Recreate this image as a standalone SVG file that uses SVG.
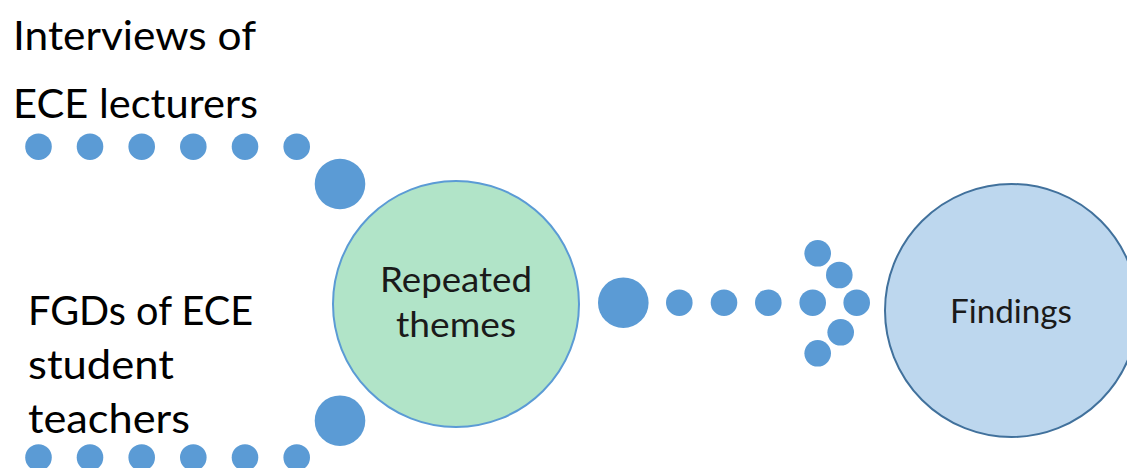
<svg xmlns="http://www.w3.org/2000/svg" width="1127" height="468" viewBox="0 0 1127 468">
  <style>
    .dot { fill: #5b9bd5; }
    .lbl { font-family: Lato, "Liberation Sans", sans-serif; fill: #000; }
    .ctr { font-family: Lato, "Liberation Sans", sans-serif; fill: #1a1a1a; text-anchor: middle; }
  </style>
  <rect width="1127" height="468" fill="#ffffff"/>

  <g id="label-interviews">
    <text class="lbl" x="13" y="50" font-size="41" textLength="243" lengthAdjust="spacingAndGlyphs">Interviews of</text>
    <text class="lbl" x="13" y="118" font-size="41" textLength="245" lengthAdjust="spacingAndGlyphs">ECE lecturers</text>
  </g>

  <g id="label-fgds">
    <text class="lbl" x="28" y="325" font-size="41" textLength="225" lengthAdjust="spacingAndGlyphs">FGDs of ECE</text>
    <text class="lbl" x="28" y="379" font-size="41" textLength="146" lengthAdjust="spacingAndGlyphs">student</text>
    <text class="lbl" x="28" y="433" font-size="41" textLength="162" lengthAdjust="spacingAndGlyphs">teachers</text>
  </g>

  <g id="connectors">
    <g id="top-dots">
      <circle class="dot" cx="38.5" cy="146.7" r="13.3"/>
      <circle class="dot" cx="90" cy="146.7" r="13.3"/>
      <circle class="dot" cx="141.7" cy="146.7" r="13.3"/>
      <circle class="dot" cx="193.3" cy="146.7" r="13.3"/>
      <circle class="dot" cx="245" cy="146.7" r="13.3"/>
      <circle class="dot" cx="296.7" cy="146.7" r="13.3"/>
      <circle class="dot" cx="340" cy="184" r="25.3"/>
    </g>
    <g id="bottom-dots">
      <circle class="dot" cx="38.5" cy="457.5" r="13.3"/>
      <circle class="dot" cx="90" cy="457.5" r="13.3"/>
      <circle class="dot" cx="141.7" cy="457.5" r="13.3"/>
      <circle class="dot" cx="193.3" cy="457.5" r="13.3"/>
      <circle class="dot" cx="245" cy="457.5" r="13.3"/>
      <circle class="dot" cx="296.7" cy="457.5" r="13.3"/>
      <circle class="dot" cx="340" cy="420.7" r="25.3"/>
    </g>
    <g id="arrow-dots">
      <circle class="dot" cx="623.3" cy="302.7" r="25.3"/>
      <circle class="dot" cx="679.3" cy="302.7" r="13.3"/>
      <circle class="dot" cx="724" cy="302.7" r="13.3"/>
      <circle class="dot" cx="768.3" cy="302.7" r="13.3"/>
      <circle class="dot" cx="812.7" cy="302.7" r="13.3"/>
      <circle class="dot" cx="856.7" cy="302.7" r="13.3"/>
      <circle class="dot" cx="817.7" cy="253.3" r="13.3"/>
      <circle class="dot" cx="839.3" cy="275" r="13.3"/>
      <circle class="dot" cx="840.7" cy="332.3" r="13.3"/>
      <circle class="dot" cx="817.7" cy="353.3" r="13.3"/>
    </g>
  </g>

  <g id="node-repeated-themes">
    <circle cx="456" cy="304" r="123" fill="#b1e4c8" stroke="#5b9bd5" stroke-width="2"/>
    <text class="ctr" x="456" y="292" font-size="35" textLength="152" lengthAdjust="spacingAndGlyphs">Repeated</text>
    <text class="ctr" x="456" y="337" font-size="35" textLength="120" lengthAdjust="spacingAndGlyphs">themes</text>
  </g>

  <g id="node-findings">
    <circle cx="1011.5" cy="310.5" r="126.5" fill="#bdd7ee" stroke="#41719c" stroke-width="2"/>
    <text class="ctr" x="1011" y="323" font-size="32" textLength="122" lengthAdjust="spacingAndGlyphs">Findings</text>
  </g>
</svg>
